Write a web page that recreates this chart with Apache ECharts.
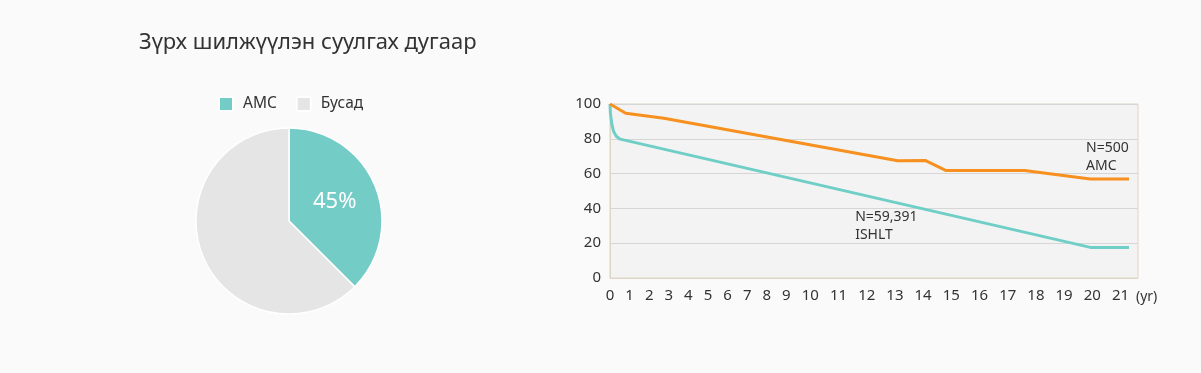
<!DOCTYPE html>
<html><head><meta charset="utf-8">
<script src="https://cdn.jsdelivr.net/npm/echarts@6/dist/echarts.min.js"></script>
<style>html,body{margin:0;padding:0;background:#fafafa}#c{width:1201px;height:373px}</style>
</head><body><div id="c"></div>
<script>
// ---- data ----
const titleText = 'Зүрх шилжүүлэн суулгах дугаар';
const pieNames = ['AMC', 'Бусад'];
const pieValues = [45, 75];
const yearTicks = ['0','1','2','3','4','5','6','7','8','9','10','11','12','13','14','15','16','17','18','19','20','21'];
const amcYears  = [0, 0.8, 2.75, 13.1, 14.07, 14.8, 17.6, 19.93, 21.3];
const amcValues = [100, 94.7, 91.8, 67.4, 67.6, 61.8, 61.8, 56.9, 56.9];
const ishltYears  = [0, 0.02, 0.1, 0.19, 0.33, 0.52, 19.93, 21.3];
const ishltValues = [100, 94.7, 88, 84, 81.3, 79.8, 17.6, 17.6];
const yTicks = [0, 20, 40, 60, 80, 100];
const xEndYear = 21.62;
const annotations = [
  {text: 'N=500\nAMC', year: 19.78, value: 80},
  {text: 'N=59,391\nISHLT', year: 11.59, value: 40.2}
];

// ---- axis warp: labels laid out as a text row (width per digit + gap) ----
const DIGIT = 8.6, GAP = 11;
const slots = [0];
for (let k = 1; k < yearTicks.length; k++) {
  slots[k] = slots[k-1] + (yearTicks[k-1].length + yearTicks[k].length) / 2 * DIGIT + GAP;
}
function toAxis(y) {
  const n = slots.length - 1;
  let k = Math.min(Math.floor(y), n - 1);
  if (k < 0) k = 0;
  const step = slots[k+1] - slots[k];
  return slots[k] + (y - k) * step;
}
const labelMap = {};
yearTicks.forEach((t, i) => { labelMap[slots[i].toFixed(3)] = t; });

const chart = echarts.init(document.getElementById('c'));
const FONT = 'Noto Sans';
const BORDER = '#ddd6c4';
chart.setOption({
  backgroundColor: '#fafafa',
  textStyle: {fontFamily: FONT},
  title: {text: titleText, left: 139, top: 32, padding: 0,
    textStyle: {fontSize: 22, fontWeight: 'normal', color: '#333', fontFamily: FONT}},
  legend: {left: 218, top: 96, padding: 0, itemWidth: 14, itemHeight: 14, itemGap: 19, icon: 'rect',
    data: pieNames, textStyle: {fontSize: 15.5, color: '#333', padding: [0,0,0,5]}},
  grid: {left: 610, right: 63, top: 104, bottom: 95, show: true,
    backgroundColor: '#f3f3f3', borderColor: BORDER, borderWidth: 1},
  xAxis: {type: 'value', min: 0, max: toAxis(xEndYear),
    name: '(yr)', nameLocation: 'end', nameGap: -2,
    nameTextStyle: {fontSize: 14, color: '#333', verticalAlign: 'top', padding: [12,0,0,0]},
    axisLine: {show: true, lineStyle: {color: BORDER}},
    axisTick: {show: false}, splitLine: {show: false},
    axisLabel: {customValues: slots, fontSize: 15, color: '#333', margin: 10,
      formatter: v => labelMap[Number(v).toFixed(3)] ?? ''}},
  yAxis: {type: 'value', min: 0, max: 100, interval: 20,
    axisLine: {show: true, lineStyle: {color: BORDER}}, axisTick: {show: false},
    splitLine: {lineStyle: {color: '#d6d6d6'}},
    axisLabel: {fontSize: 15, color: '#333', margin: 9}},
  series: [
    {type: 'pie', name: 'pie', center: [289, 221], radius: 93, startAngle: 90,
      itemStyle: {borderColor: '#fff', borderWidth: 1.5},
      label: {show: true, position: 'inside', color: '#fff', fontSize: 22,
        formatter: p => p.dataIndex === 0 ? p.value + '%' : ''},
      labelLine: {show: false}, emphasis: {disabled: true},
      color: ['#73ccc6', '#e5e5e5'],
      data: pieNames.map((n, i) => ({name: n, value: pieValues[i]}))},
    {type: 'line', name: 'ISHLT', symbol: 'none', animation: false,
      lineStyle: {color: '#6fcfc6', width: 3}, itemStyle: {color: '#6fcfc6'},
      data: ishltYears.map((y, i) => [toAxis(y), ishltValues[i]]),
      markPoint: {symbol: 'circle', symbolSize: 0, animation: false,
        data: [{coord: [toAxis(annotations[1].year), annotations[1].value]}],
        label: {show: true, position: [0, 0], align: 'left', verticalAlign: 'top',
          formatter: annotations[1].text, fontSize: 14, lineHeight: 18, color: '#333'}}},
    {type: 'line', name: 'AMC-line', symbol: 'none', animation: false,
      lineStyle: {color: '#f7901e', width: 3}, itemStyle: {color: '#f7901e'},
      data: amcYears.map((y, i) => [toAxis(y), amcValues[i]]),
      markPoint: {symbol: 'circle', symbolSize: 0, animation: false,
        data: [{coord: [toAxis(annotations[0].year), annotations[0].value]}],
        label: {show: true, position: [0, 0], align: 'left', verticalAlign: 'top',
          formatter: annotations[0].text, fontSize: 14, lineHeight: 18, color: '#333'}}}
  ],
  animation: false
});
</script></body></html>
